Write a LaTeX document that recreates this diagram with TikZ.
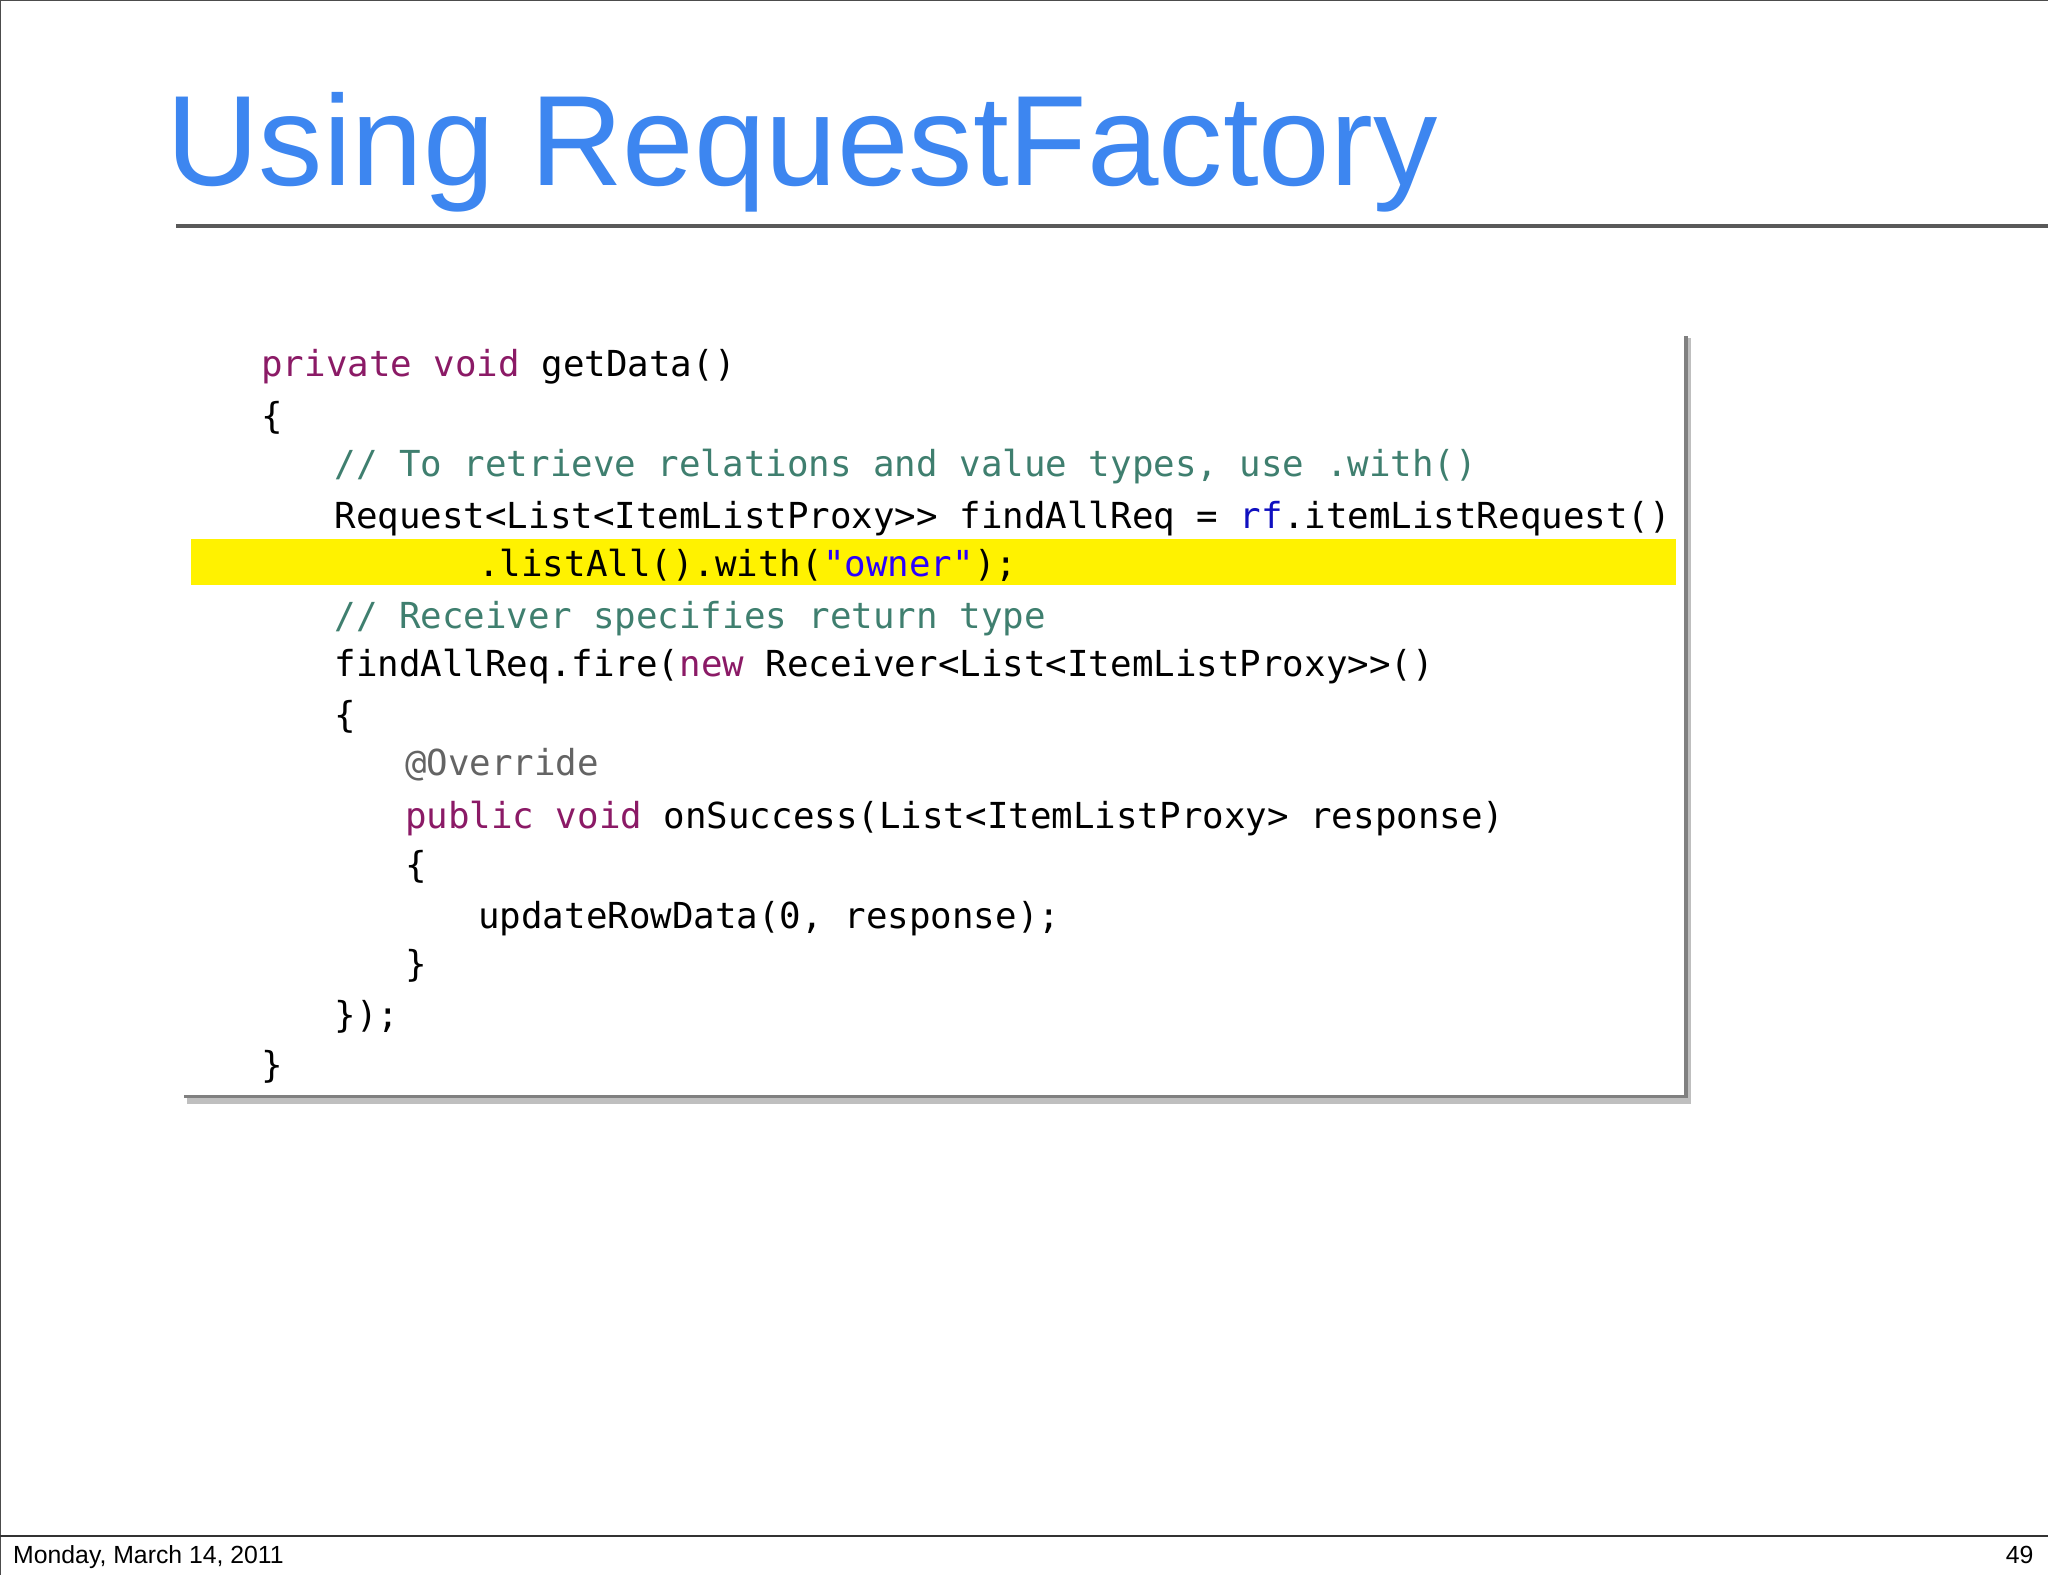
\documentclass[tikz,border=0pt]{standalone}
\usepackage{fontspec}
\setmainfont{Liberation Sans}
\newfontfamily\codefont{DejaVu Sans Mono}
\definecolor{titleblue}{HTML}{3D86F0}
\definecolor{kw}{HTML}{8B1A66}
\definecolor{cm}{HTML}{3F7F6F}
\definecolor{fld}{HTML}{1010C0}
\definecolor{str}{HTML}{2A00FF}
\definecolor{ann}{HTML}{646464}
\begin{document}
\begin{tikzpicture}[x=0.05cm,y=-0.05cm,
  code/.style={anchor=base west,inner sep=0,font=\codefont\fontsize{39}{41}\selectfont},
  foot/.style={inner sep=0,font=\fontsize{27}{29}\selectfont}]
\useasboundingbox (0,0) rectangle (1568,1206);
\fill[white] (0,0) rectangle (1568,1206);
\draw[line width=1.2pt,black!70] (0,1206) -- (0,0) -- (1568,0);
\draw[line width=1.2pt,black!80] (0,1176) -- (1568,1176);
\node[anchor=base west,inner sep=0,text=titleblue,font=\fontsize{140}{140}\selectfont] (title) at (127,142) {Using RequestFactory};
\draw[line width=3.5pt,black!65] (135,173) -- (1568,173);
% code box
\fill[black!25] (143,259) rectangle (1295,845);
\fill[black!50] (141,257) rectangle (1292,841);
\fill[white] (139,255) rectangle (1289,838);
\fill[yellow] (146,413) rectangle (1283,448);
\node[code] (l1) at (200,288) {\textcolor{kw}{private void} getData()};
\node[code] (l2) at (200,328) {\{};
\node[code,text=cm] (l3) at (256,365) {// To retrieve relations and value types, use .with()};
\node[code] (l4) at (256,405) {Request<List<ItemListProxy>> findAllReq = \textcolor{fld}{rf}.itemListRequest()};
\node[code] (l5) at (366,441) {.listAll().with(\textcolor{str}{"owner"});};
\node[code,text=cm] (l6) at (256,481) {// Receiver specifies return type};
\node[code] (l7) at (256,518) {findAllReq.fire(\textcolor{kw}{new} Receiver<List<ItemListProxy>>()};
\node[code] (l8) at (256,557) {\{};
\node[code,text=ann] (l9) at (310,594) {@Override};
\node[code] (l10) at (310,634) {\textcolor{kw}{public void} onSuccess(List<ItemListProxy> response)};
\node[code] (l11) at (310,672) {\{};
\node[code] (l12) at (366,711) {updateRowData(0, response);};
\node[code] (l13) at (310,748) {\}};
\node[code] (l14) at (256,787) {\});};
\node[code] (l15) at (200,825) {\}};
\node[foot,anchor=base west] (date) at (10,1197) {Monday, March 14, 2011};
\node[foot,anchor=base east] (page) at (1557,1197) {49};
\end{tikzpicture}
\end{document}
